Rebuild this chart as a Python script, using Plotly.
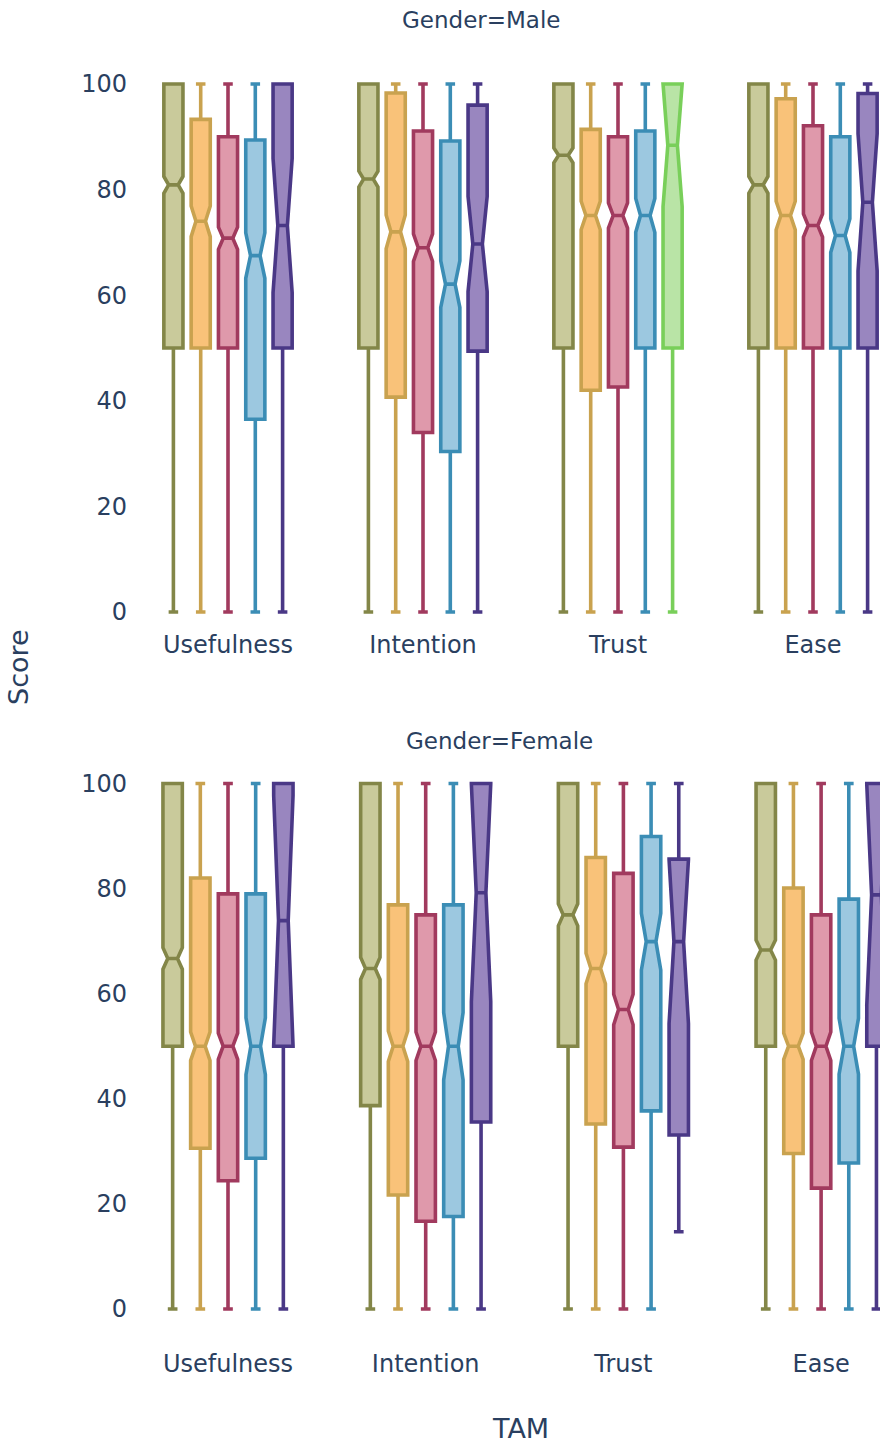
import plotly.graph_objects as go
from plotly.subplots import make_subplots

CATEGORIES = ["Usefulness", "Intention", "Trust", "Ease"]
NO_TRUST = ["Usefulness", "Intention", "Ease"]

# ---- Male: box statistics per group (one value per category) ----
m_a_q1 = [50, 50, 50, 50]
m_a_med = [80.9, 82.0, 86.5, 80.9]
m_a_q3 = [100, 100, 100, 100]
m_a_notch = [1.6, 1.5, 1.4, 1.6]

m_b_q1 = [50, 40.7, 42.0, 50]
m_b_med = [74.0, 72.0, 75.1, 75.1]
m_b_q3 = [93.3, 98.3, 91.4, 97.2]
m_b_notch = [2.9, 3.2, 2.7, 2.7]

m_c_q1 = [50, 34.0, 42.6, 50]
m_c_med = [70.8, 69.0, 75.1, 73.2]
m_c_q3 = [90.0, 91.1, 90.0, 92.1]
m_c_notch = [2.1, 2.6, 2.4, 2.2]

m_d_q1 = [36.5, 30.4, 50, 50]
m_d_med = [67.5, 62.1, 75.1, 71.3]
m_d_q3 = [89.4, 89.2, 91.1, 90.0]
m_d_notch = [4.3, 4.4, 3.2, 3.2]

m_e_q1 = [50, 49.4, 50]
m_e_med = [73.2, 69.7, 77.6]
m_e_q3 = [100, 96.0, 98.2]
m_e_notch = [12.7, 9.0, 13.0]

m_f_q1 = [50]
m_f_med = [88.4]
m_f_q3 = [100]
m_f_notch = [11.6]

# ---- Female ----
f_a_q1 = [50, 38.7, 50, 50]
f_a_med = [66.7, 64.8, 75.0, 68.3]
f_a_q3 = [100, 100, 100, 100]
f_a_notch = [2.05, 2.1, 2.1, 1.9]

f_b_q1 = [30.6, 21.7, 35.2, 29.6]
f_b_med = [50, 50, 64.8, 50]
f_b_q3 = [82.0, 76.9, 85.9, 80.1]
f_b_notch = [2.7, 2.9, 2.9, 2.5]

f_c_q1 = [24.4, 16.7, 30.8, 23.0]
f_c_med = [50, 50, 57.0, 50]
f_c_q3 = [79.0, 75.0, 82.9, 75.0]
f_c_notch = [2.5, 2.7, 2.9, 2.7]

f_d_q1 = [28.7, 17.6, 37.7, 27.8]
f_d_med = [50, 50, 69.9, 50]
f_d_q3 = [79.0, 76.9, 89.9, 78.0]
f_d_notch = [5.4, 6.4, 5.4, 5.3]

f_e_q1 = [50, 35.6, 33.1, 50]
f_e_med = [73.9, 79.2, 69.9, 78.8]
f_e_q3 = [100, 100, 85.6, 100]
f_e_low = [0, 0, 14.7, 0]
f_e_notch = [23.8, 20.7, 15.6, 21.0]

LINE = {"a": "#838648", "b": "#c9a24f", "c": "#a13a5e", "d": "#3b8db5",
        "e": "#4a3886", "f": "#79cf5a"}
FILL = {"a": "#c9ca9b", "b": "#f9c279", "c": "#df99ab", "d": "#9cc8e0",
        "e": "#9986bf", "f": "#b9e4a6"}
SLOT = {"a": "1", "b": "2", "c": "3", "d": "4", "e": "5", "f": "5"}

FONT = "DejaVu Sans"
TEXT = "#2a3f5f"

fig = make_subplots(rows=2, cols=1)


def add_box(row, key, cats, q1, med, q3, notch, low=None, high=None):
    n = len(cats)
    fig.add_trace(
        go.Box(
            x=cats, q1=q1, median=med, q3=q3,
            lowerfence=low if low is not None else [0] * n,
            upperfence=high if high is not None else [100] * n,
            notchspan=notch, notched=True,
            offsetgroup=SLOT[key], alignmentgroup="all",
            line=dict(color=LINE[key], width=3.6),
            fillcolor=FILL[key],
            name=key, showlegend=False, hoverinfo="skip",
        ),
        row=row, col=1,
    )


add_box(1, "a", CATEGORIES, m_a_q1, m_a_med, m_a_q3, m_a_notch)
add_box(1, "b", CATEGORIES, m_b_q1, m_b_med, m_b_q3, m_b_notch)
add_box(1, "c", CATEGORIES, m_c_q1, m_c_med, m_c_q3, m_c_notch)
add_box(1, "d", CATEGORIES, m_d_q1, m_d_med, m_d_q3, m_d_notch)
add_box(1, "e", NO_TRUST, m_e_q1, m_e_med, m_e_q3, m_e_notch)
add_box(1, "f", ["Trust"], m_f_q1, m_f_med, m_f_q3, m_f_notch)

add_box(2, "a", CATEGORIES, f_a_q1, f_a_med, f_a_q3, f_a_notch)
add_box(2, "b", CATEGORIES, f_b_q1, f_b_med, f_b_q3, f_b_notch)
add_box(2, "c", CATEGORIES, f_c_q1, f_c_med, f_c_q3, f_c_notch)
add_box(2, "d", CATEGORIES, f_d_q1, f_d_med, f_d_q3, f_d_notch)
add_box(2, "e", CATEGORIES, f_e_q1, f_e_med, f_e_q3, f_e_notch, low=f_e_low)

W, H, L = 880, 1446, 140

fig.update_layout(
    width=W, height=H,
    margin=dict(l=L, r=0, t=0, b=0),
    boxmode="group",
    paper_bgcolor="white", plot_bgcolor="white",
    font=dict(family=FONT, color=TEXT, size=24),
    showlegend=False,
)

axis_common = dict(showgrid=False, zeroline=False, showline=False,
                   tickfont=dict(size=24, color=TEXT, family=FONT))

fig.update_xaxes(**axis_common, type="category", categoryorder="array",
                 categoryarray=CATEGORIES)
fig.update_yaxes(**axis_common, range=[-3, 103], tickvals=[0, 20, 40, 60, 80, 100],
                 ticklabelstandoff=12)

fig.update_layout(
    yaxis=dict(domain=[0.56581, 0.95286]),
    yaxis2=dict(domain=[0.08382, 0.46909]),
    xaxis=dict(range=[-0.4513, 3.3436]),
    xaxis2=dict(range=[-0.4451, 3.2979], ticklabelstandoff=22),
)


def px_x(px):
    return (px - L) / (W - L)


def px_y(py):
    return 1 - py / H


ann = [
    dict(text="Gender=Male", x=px_x(481), y=px_y(20), size=23, angle=0),
    dict(text="Gender=Female", x=px_x(499), y=px_y(741), size=23, angle=0),
    dict(text="Score", x=px_x(18), y=px_y(667), size=27, angle=-90),
    dict(text="TAM", x=px_x(520), y=px_y(1428), size=27, angle=0),
]
for a in ann:
    fig.add_annotation(
        text=a["text"], x=a["x"], y=a["y"], xref="paper", yref="paper",
        xanchor="center", yanchor="middle", showarrow=False, textangle=a["angle"],
        font=dict(family=FONT, size=a["size"], color=TEXT),
    )

fig.write_html("out.html")
